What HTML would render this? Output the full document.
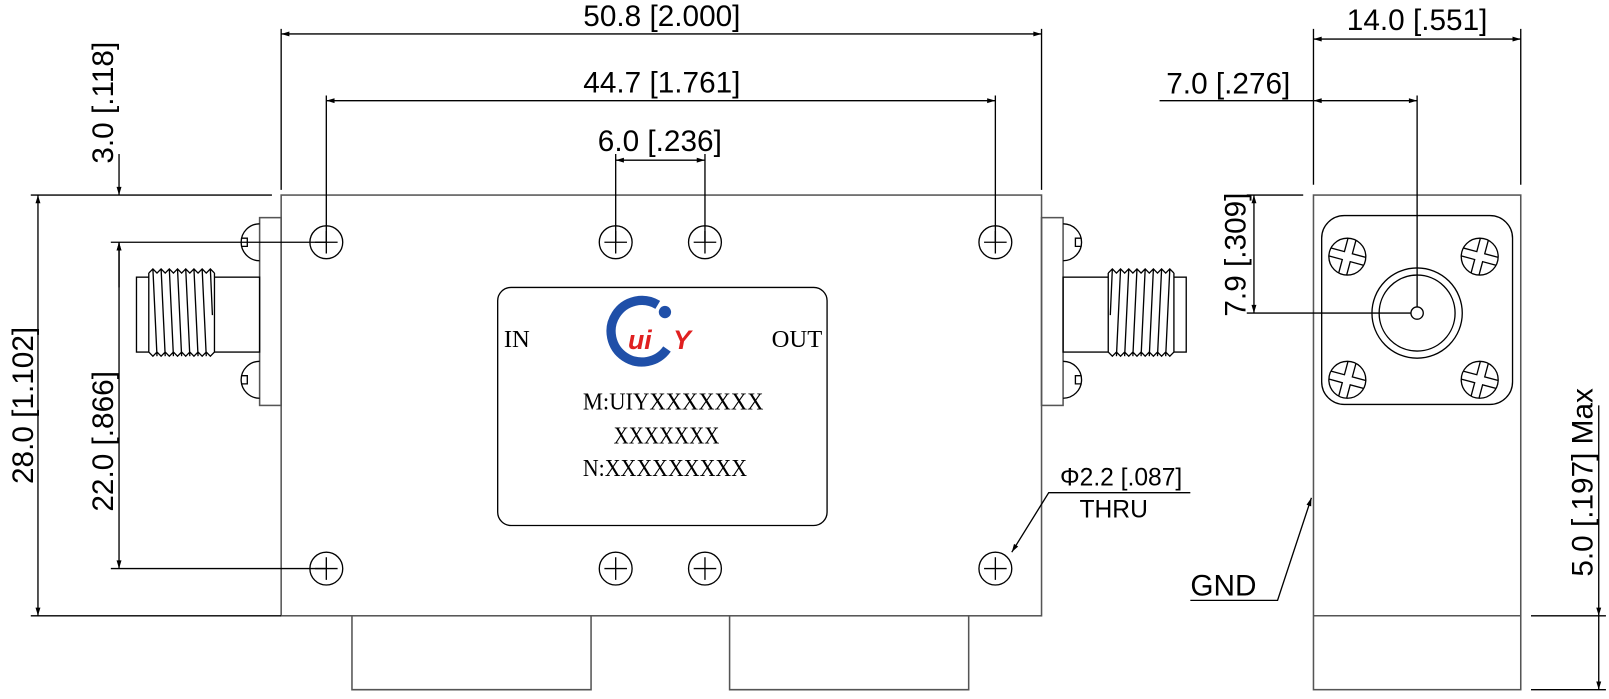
<!DOCTYPE html>
<html><head><meta charset="utf-8"><style>
html,body{margin:0;padding:0;background:#fff;}
svg{display:block}
.l{stroke:#000;stroke-width:1.3;fill:none}
.g{stroke:#555;stroke-width:1.5;fill:none}
text{font-family:"Liberation Sans",sans-serif;font-size:29px;fill:#000}
.s{font-family:"Liberation Serif",serif;font-size:24px}
</style></head><body>
<svg width="1609" height="699" viewBox="0 0 1568 681" xmlns="http://www.w3.org/2000/svg">
<defs>
<marker id="a" viewBox="0 0 10 10" refX="10" refY="5" markerWidth="14" markerHeight="8" markerUnits="userSpaceOnUse" orient="auto-start-reverse"><path d="M0,2 L10,5 L0,8z" fill="#000"/></marker>
<clipPath id="cc"><circle r="18"/></clipPath>
<g id="h"><circle r="16" class="l"/><path d="M-11,0H11M0,-11V11" class="l"/></g>
<g id="sc"><circle r="18" class="l"/><g clip-path="url(#cc)"><polygon transform="rotate(15)" points="-4,-20 4,-20 4,-4 20,-4 20,4 4,4 4,20 -4,20 -4,4 -20,4 -20,-4 -4,-4" class="l"/></g></g>
<g id="con">
<rect x="253" y="212" width="21" height="183" class="g"/>
<path d="M253,218 A18,18 0 0 0 253,254 M253,352 A18,18 0 0 0 253,388" class="l"/>
<path d="M235,232 h6 v8 h-6 M235,366 h6 v8 h-6" class="l"/>
<rect x="133" y="270" width="120" height="73" class="l"/>
<rect x="145" y="262" width="64" height="85" fill="#fff" stroke="none"/>
<path d="M145,266 l4,-4 l4,4 l4,-4 l4,4 l4,-4 l4,4 l4,-4 l4,4 l4,-4 l4,4 l4,-4 l4,4 l4,-4 l4,4 l4,-4 l4,4 M145,343 l4,4 l4,-4 l4,4 l4,-4 l4,4 l4,-4 l4,4 l4,-4 l4,4 l4,-4 l4,4 l4,-4 l4,4 l4,-4 l4,4 l4,-4 M145,266 V343 M209,266 V343 M149,262 l4,85 M157,262 l4,85 M165,262 l4,85 M173,262 l4,85 M181,262 l4,85 M189,262 l4,85 M197,262 l4,85 M205,262 l2,45" class="l" stroke-width="1"/>
</g>
</defs>

<rect x="274" y="190" width="741" height="410" class="g"/>
<path d="M343,600 V672 H576 V600 M711,600 V672 H944 V600" class="g"/>
<use href="#con"/>
<use href="#con" transform="translate(1289,0) scale(-1,1)"/>

<use href="#h" x="318" y="236"/><use href="#h" x="600" y="236"/><use href="#h" x="687" y="236"/><use href="#h" x="970" y="236"/>
<use href="#h" x="318" y="554"/><use href="#h" x="600" y="554"/><use href="#h" x="687" y="554"/><use href="#h" x="970" y="554"/>

<path d="M274,28V185 M1015,28V185 M318,93V236 M970,93V236 M600,150V236 M687,150V236" class="l"/>
<path d="M274,33H1015" class="l" marker-start="url(#a)" marker-end="url(#a)"/>
<path d="M318,98H970" class="l" marker-start="url(#a)" marker-end="url(#a)"/>
<path d="M600,156H687" class="l" marker-start="url(#a)" marker-end="url(#a)"/>
<text x="645" y="25" text-anchor="middle">50.8 [2.000]</text>
<text x="645" y="90" text-anchor="middle">44.7 [1.761]</text>
<text x="643" y="147" text-anchor="middle">6.0 [.236]</text>

<path d="M30,190H265 M30,600H274 M108,236H318 M108,554H318" class="l"/>
<path d="M37,190V600" class="l" marker-start="url(#a)" marker-end="url(#a)"/>
<path d="M116,150V190" class="l" marker-end="url(#a)"/>
<path d="M116,280V236" class="l" marker-end="url(#a)"/>
<path d="M116,236V554" class="l" marker-start="url(#a)" marker-end="url(#a)"/>
<text transform="translate(32,395) rotate(-90)" text-anchor="middle">28.0 [1.102]</text>
<text transform="translate(110,100) rotate(-90)" text-anchor="middle">3.0 [.118]</text>
<text transform="translate(110,430) rotate(-90)" text-anchor="middle">22.0 [.866]</text>

<rect x="485" y="280" width="321" height="232" rx="13" class="l"/>
<text x="491" y="338" class="s">IN</text>
<text x="752" y="338" class="s">OUT</text>
<path d="M641,297 A30,30 0 1 0 650,340" stroke="#1f4fa8" stroke-width="9" fill="none"/>
<circle cx="648" cy="304" r="6" fill="#1f4fa8"/>
<text x="612" y="340" style="font-size:26px;fill:#e02020;font-weight:bold;font-style:italic">ui</text>
<text x="656" y="340" style="font-size:26px;fill:#e02020;font-weight:bold;font-style:italic">Y</text>
<text x="568" y="399" class="s" textLength="176" lengthAdjust="spacingAndGlyphs">M:UIYXXXXXXX</text>
<text x="598" y="432" class="s" textLength="103" lengthAdjust="spacingAndGlyphs">XXXXXXX</text>
<text x="568" y="464" class="s" textLength="160" lengthAdjust="spacingAndGlyphs">N:XXXXXXXXX</text>

<text x="1033" y="473" style="font-size:24px">Φ2.2 [.087]</text>
<text x="1052" y="504" style="font-size:24px">THRU</text>
<path d="M1160,480H1022L986,538" class="l" marker-end="url(#a)"/>

<rect x="1280" y="190" width="202" height="482" class="g"/>
<path d="M1280,600H1482" class="g"/>
<rect x="1288" y="210" width="186" height="184" rx="22" class="l"/>
<use href="#sc" x="1313" y="250"/><use href="#sc" x="1442" y="250"/>
<use href="#sc" x="1313" y="370"/><use href="#sc" x="1442" y="370"/>
<circle cx="1381" cy="305" r="44" class="l"/><circle cx="1381" cy="305" r="37" class="l"/><circle cx="1381" cy="305" r="6" class="l"/>
<path d="M1280,28V180 M1482,28V180 M1381,93V299 M1215,190H1270 M1215,305H1375 M1492,600H1565 M1492,672H1565" class="l"/>
<path d="M1280,38H1482" class="l" marker-start="url(#a)" marker-end="url(#a)"/>
<path d="M1130,98H1280" class="l"/>
<path d="M1280,98H1381" class="l" marker-start="url(#a)" marker-end="url(#a)"/>
<path d="M1222,190V305" class="l" marker-start="url(#a)" marker-end="url(#a)"/>
<path d="M1558,395V600" class="l" marker-end="url(#a)"/>
<path d="M1558,672V600" class="l" marker-start="url(#a)"/>
<text x="1381" y="29" text-anchor="middle">14.0 [.551]</text>
<text x="1197" y="91" text-anchor="middle">7.0 [.276]</text>
<text transform="translate(1214,248) rotate(-90)" text-anchor="middle">7.9 [.309]</text>
<text transform="translate(1552,470) rotate(-90)" text-anchor="middle">5.0 [.197] Max</text>
<text x="1160" y="580">GND</text>
<path d="M1160,585H1245L1278,485" class="l" marker-end="url(#a)"/>
</svg>
</body></html>
